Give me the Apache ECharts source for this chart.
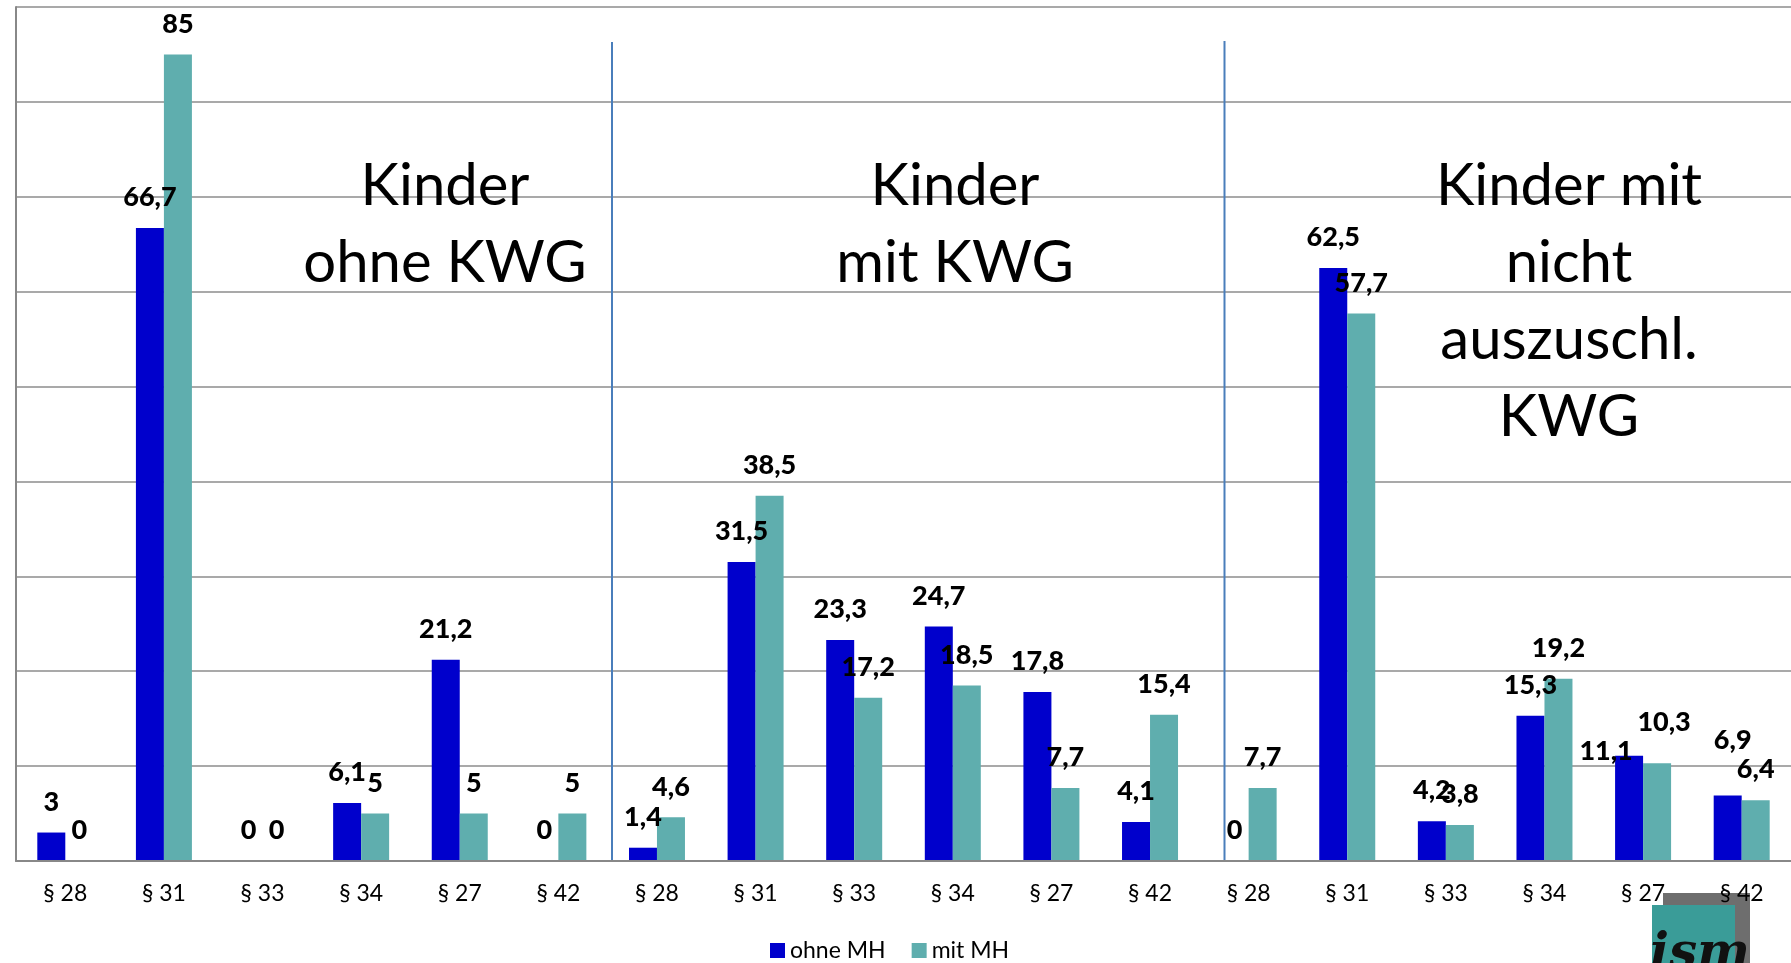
<!DOCTYPE html>
<html>
<head>
<meta charset="utf-8">
<script src="https://cdn.jsdelivr.net/npm/echarts@6/dist/echarts.min.js"></script>
<style>
html,body{margin:0;padding:0;background:#fff;}
#chart{width:1791px;height:963px;}
</style>
</head>
<body>
<div id="chart"></div>
<script>
const categories = ['§ 28','§ 31','§ 33','§ 34','§ 27','§ 42',
                    '§ 28','§ 31','§ 33','§ 34','§ 27','§ 42',
                    '§ 28','§ 31','§ 33','§ 34','§ 27','§ 42'];
const ohneMH = [3, 66.7, 0, 6.1, 21.2, 0,
                1.4, 31.5, 23.3, 24.7, 17.8, 4.1,
                0, 62.5, 4.2, 15.3, 11.1, 6.9];
const mitMH  = [0, 85, 0, 5, 5, 5,
                4.6, 38.5, 17.2, 18.5, 7.7, 15.4,
                7.7, 57.7, 3.8, 19.2, 10.3, 6.4];
const seriesNames = ['ohne MH', 'mit MH'];
const sectionTitles = ['Kinder\nohne KWG', 'Kinder\nmit KWG', 'Kinder mit\nnicht\nauszuschl.\nKWG'];
const yTicks = {min: 0, max: 90, interval: 10};

// manually moved data labels in the original (index -> pixel offset)
const ohneLabelShift = {16: [-23, 26], 17: [5, -25]};
const mitLabelShift  = {16: [7, -10]};

const FONT = 'Lato';
const fmt = p => String(p.value).replace('.', ',');

const labelStyle = {
  show: true, position: 'top', distance: 17, formatter: fmt,
  fontFamily: FONT, fontWeight: 900, fontSize: 27, color: '#000'
};
function build(values, shifts) {
  return values.map((v, i) => shifts[i]
    ? {value: v, label: {offset: shifts[i]}}
    : v);
}

const chart = echarts.init(document.getElementById('chart'), null, {renderer: 'canvas'});
chart.setOption({
  animation: false,
  backgroundColor: '#fff',
  grid: {left: 16, width: 1777, top: 7, bottom: 102, containLabel: false},
  legend: {
    data: seriesNames, left: 765, top: 934, itemGap: 26,
    itemWidth: 15, itemHeight: 15, icon: 'rect',
    textStyle: {fontFamily: FONT, fontSize: 23, color: '#000'}
  },
  xAxis: {
    type: 'category', data: categories, z: 10,
    axisLine: {show: true, lineStyle: {color: '#888', width: 2}},
    axisTick: {show: false},
    axisLabel: {interval: 0, margin: 21, fontFamily: FONT, fontSize: 23, color: '#000'}
  },
  yAxis: {
    type: 'value', min: yTicks.min, max: yTicks.max, interval: yTicks.interval,
    axisLine: {show: true, lineStyle: {color: '#888', width: 2}},
    axisTick: {show: false},
    axisLabel: {show: false},
    splitLine: {show: true, lineStyle: {color: '#8c8c8c', width: 1.5}}
  },
  series: [
    {name: seriesNames[0], type: 'bar', data: build(ohneMH, ohneLabelShift), barWidth: 28, barGap: '0%',
     itemStyle: {color: '#0000CC'}, label: labelStyle},
    {name: seriesNames[1], type: 'bar', data: build(mitMH, mitLabelShift), barWidth: 28, barGap: '0%',
     itemStyle: {color: '#5FAEAE'}, label: labelStyle}
  ],
  graphic: [
    {type: 'line', shape: {x1: 612, y1: 42, x2: 612, y2: 860}, style: {stroke: '#4A7EBB', lineWidth: 2}, z: 5},
    {type: 'line', shape: {x1: 1224.5, y1: 41, x2: 1224.5, y2: 860}, style: {stroke: '#4A7EBB', lineWidth: 2}, z: 5},
    {type: 'text', x: 445, y: 148, z: 6, style: {text: sectionTitles[0], font: '58px Lato', lineHeight: 77, align: 'center', verticalAlign: 'top', fill: '#000'}},
    {type: 'text', x: 955, y: 148, z: 6, style: {text: sectionTitles[1], font: '58px Lato', lineHeight: 77, align: 'center', verticalAlign: 'top', fill: '#000'}},
    {type: 'text', x: 1569, y: 148, z: 6, style: {text: sectionTitles[2], font: '58px Lato', lineHeight: 77, align: 'center', verticalAlign: 'top', fill: '#000'}},
    {type: 'rect', shape: {x: 1663, y: 893, width: 87, height: 80}, style: {fill: '#6e6e6e'}, z: 1},
    {type: 'rect', shape: {x: 1652, y: 905, width: 83, height: 70}, style: {fill: '#3a9c98'}, z: 2},
    {type: 'text', x: 1700, y: 955, z: 3, style: {text: 'ism', font: 'italic bold 50px "DejaVu Serif"', align: 'center', verticalAlign: 'middle', fill: '#111'}}
  ]
});
</script>
</body>
</html>
